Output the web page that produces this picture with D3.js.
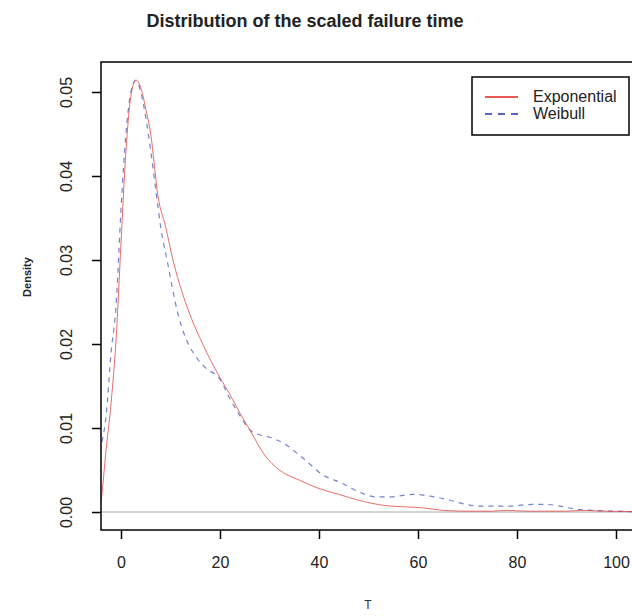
<!DOCTYPE html>
<html>
<head>
<meta charset="utf-8">
<script src="https://cdn.jsdelivr.net/npm/d3@7"></script>
<style>
  body{margin:0;background:#fff;}
  text{font-family:"Liberation Sans",Arial,sans-serif;}
</style>
</head>
<body>
<svg id="chart" width="632" height="616"></svg>
<script>
// density estimates
var expT = [-4.5,-4,-3,-2,-1,0,1,2,3,4,5,6,7.5,9,10.5,13,16.5,20,22,24,26,29,32,36,40,44,48,53,58,61,65,70,75,78,82,90,93,98,106];
var expD = [0,0.0015,0.0075,0.013,0.0205,0.032,0.043,0.0495,0.0514,0.0505,0.048,0.045,0.0375,0.034,0.030,0.025,0.0200,0.0160,0.0140,0.0118,0.0098,0.0068,0.0050,0.0038,0.0028,0.0021,0.0014,0.0008,0.0006,0.0005,0.0002,0.0001,0.0001,0.0002,0.0001,0.0001,0.0002,0.0001,0.00005];

var weiT = [-4.5,-4,-3,-2,-1,0,1,2,3,4,5,6,7.3,8,9.3,11.5,13,15,17,20,22,24,26,28,30,32.8,36.8,40.8,44.8,47.3,51.7,54.3,59,62.4,66.5,69,72.5,78,83,86,88.7,91.3,95,100,106];
var weiD = [0.006,0.0078,0.0115,0.019,0.0245,0.036,0.045,0.050,0.0514,0.050,0.047,0.043,0.0371,0.034,0.030,0.0236,0.0208,0.0186,0.0172,0.0158,0.0135,0.0115,0.0098,0.0092,0.0089,0.0082,0.0064,0.0044,0.0034,0.0026,0.0018,0.0018,0.0021,0.0019,0.0014,0.0010,0.0007,0.0007,0.0009,0.0009,0.0007,0.0004,0.0002,0.0001,0];

var xTicks = [0,20,40,60,80,100];
var yTicks = [0,0.01,0.02,0.03,0.04,0.05];
var seriesNames = ["Exponential","Weibull"];

var svg = d3.select('#chart');
// plot region (R's box)
var pLeft = 101, pRight = 640, pTop = 62, pBottom = 530;

var x = d3.scaleLinear().domain([-4.04,104.85]).range([pLeft,pRight]);
var y = d3.scaleLinear().domain([-0.00214,0.05357]).range([pBottom,pTop]);

//title
svg.append('text')
   .attr('x',305).attr('y',27)
   .attr('text-anchor','middle')
   .style('font-size','18px').style('font-weight','bold').style('fill','#222')
   .text('Distribution of the scaled failure time');

svg.append('clipPath').attr('id','plotclip')
   .append('rect').attr('x',pLeft).attr('y',pTop).attr('width',pRight-pLeft).attr('height',pBottom-pTop);

var plot = svg.append('g').attr('clip-path','url(#plotclip)');

//zero line
plot.append('line')
    .attr('x1',pLeft).attr('x2',pRight)
    .attr('y1',y(0)).attr('y2',y(0))
    .style('stroke','#aaa').style('stroke-width',1.2);

var line = d3.line().curve(d3.curveMonotoneX)
             .x(d=>x(d[0])).y(d=>y(d[1]));

plot.append('path')
    .datum(weiT.map((t,i)=>[t,weiD[i]]))
    .attr('d',line)
    .style('fill','none').style('stroke','#3a4fb5').style('stroke-width',1.2)
    .style('stroke-dasharray','5,5').style('opacity',0.7);

plot.append('path')
    .datum(expT.map((t,i)=>[t,expD[i]]))
    .attr('d',line)
    .style('fill','none').style('stroke','#e03c3c').style('stroke-width',1)
    .style('opacity',0.75);

//axes
var xAxis = svg.append('g').attr('transform','translate(0,'+pBottom+')')
   .call(d3.axisBottom(x).tickValues(xTicks).tickSize(9).tickPadding(18));
var yAxis = svg.append('g').attr('transform','translate('+pLeft+',0)')
   .call(d3.axisLeft(y).tickValues(yTicks).tickFormat(d3.format('.2f')).tickSize(9));

[xAxis,yAxis].forEach(function(a){
    a.select('.domain').remove();
    a.selectAll('line').style('stroke','#000').style('stroke-width',1.5);
    a.selectAll('text').style('font-size','16px').style('fill','#222')
     .style('font-family','"Liberation Sans",Arial,sans-serif');
});
xAxis.selectAll('text').attr('dy','0.71em');
yAxis.selectAll('text')
     .attr('transform','rotate(-90)')
     .attr('x',0).attr('y',-29).attr('dy',0)
     .style('text-anchor','middle');

//frame
svg.append('rect')
   .attr('x',pLeft).attr('y',pTop).attr('width',pRight-pLeft).attr('height',pBottom-pTop)
   .style('fill','none').style('stroke','#000').style('stroke-width',1.5);

//axis titles
svg.append('text')
   .attr('transform','translate(31,277) rotate(-90)')
   .attr('text-anchor','middle')
   .style('font-size','11px').style('font-weight','bold').style('fill','#222')
   .text('Density');
svg.append('text')
   .attr('x',368).attr('y',609)
   .attr('text-anchor','middle')
   .style('font-size','12px').style('fill','#333')
   .text('T');

//legend
var lg = svg.append('g');
lg.append('rect').attr('x',472).attr('y',77).attr('width',157).attr('height',58)
  .style('fill','#fff').style('stroke','#000').style('stroke-width',1.5);
var lgColor = ['#dd2222','#2233bb'], lgDash = [null,'7,6'];
seriesNames.forEach(function(n,i){
    var yy = 97 + i*17;
    lg.append('line').attr('x1',485).attr('x2',518).attr('y1',yy).attr('y2',yy)
      .style('stroke',lgColor[i]).style('stroke-width',1.5)
      .style('stroke-dasharray',lgDash[i]);
    lg.append('text').attr('x',533).attr('y',yy+5)
      .style('font-size','16px').style('fill','#222')
      .text(n);
});
</script>
</body>
</html>
